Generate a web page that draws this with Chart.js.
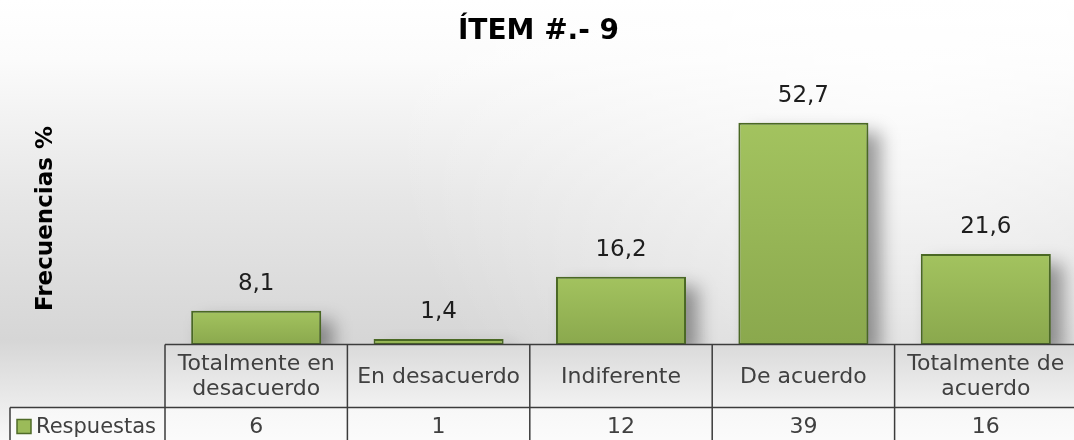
<!DOCTYPE html>
<html><head><meta charset="utf-8">
<script src="https://cdn.jsdelivr.net/npm/chart.js@4.4.1/dist/chart.umd.min.js"></script>
<style>html,body{margin:0;padding:0;overflow:hidden;background:#fff}#wrap{width:1080px;height:440px;position:relative}canvas{display:block}</style>
</head><body><div id="wrap"><canvas id="c" width="1080" height="440"></canvas></div>
<script>
const chartTitle = "ÍTEM #.- 9";
const yAxisTitle = "Frecuencias %";
const seriesName = "Respuestas";
const categories = [["Totalmente en","desacuerdo"],["En desacuerdo"],["Indiferente"],["De acuerdo"],["Totalmente de","acuerdo"]];
const percentages = [8.1, 1.4, 16.2, 52.7, 21.6];
const responses = [6, 1, 12, 39, 16];
const yMin = 0, yMax = 60;

const fmt = v => v.toFixed(1).replace('.', ',');
const FONT = "'DejaVu Sans', sans-serif";

const bgPlugin = {
  id: 'bg',
  beforeDraw(chart) {
    const {ctx, width, height} = chart;
    ctx.save();
    const g = ctx.createLinearGradient(0, 0, 0, height);
    g.addColorStop(0, '#ffffff');
    g.addColorStop(60/440, '#fbfbfb');
    g.addColorStop(200/440, '#e6e6e6');
    g.addColorStop(340/440, '#d6d6d6');
    g.addColorStop(407/440, '#ececec');
    g.addColorStop(1, '#f8f8f8');
    ctx.fillStyle = g;
    ctx.fillRect(0, 0, width, height);
    const r = ctx.createRadialGradient(900, 60, 0, 900, 60, 520);
    r.addColorStop(0, 'rgba(255,255,255,0.75)');
    r.addColorStop(1, 'rgba(255,255,255,0)');
    ctx.fillStyle = r;
    ctx.fillRect(0, 0, width, 345);
    ctx.restore();
  }
};

const shadowPlugin = {
  id: 'shadow',
  beforeDatasetsDraw(chart) {
    const {ctx, chartArea: a} = chart;
    ctx.save();
    ctx.beginPath();
    ctx.rect(a.left, 0, a.right - a.left, a.bottom);
    ctx.clip();
    ctx.filter = 'blur(9px)';
    ctx.fillStyle = 'rgba(0,0,0,0.38)';
    chart.getDatasetMeta(0).data.forEach((bar) => {
      const w = bar.width;
      ctx.fillRect(bar.x - w / 2 + 12, bar.y + 10, w, bar.base - bar.y);
    });
    ctx.restore();
  },
  afterDatasetsDraw(chart) {
    const ctx = chart.ctx;
    ctx.save();
    ctx.font = "23px " + FONT;
    ctx.fillStyle = '#1e1e1e';
    ctx.textAlign = 'center';
    ctx.textBaseline = 'middle';
    chart.getDatasetMeta(0).data.forEach((bar, i) => {
      ctx.fillText(fmt(percentages[i]), bar.x, bar.y - 27);
    });
    ctx.restore();
  }
};

const tablePlugin = {
  id: 'table',
  afterDraw(chart) {
    const {ctx, chartArea: a, width} = chart;
    const xs = chart.scales.x;
    const step = xs.getPixelForValue(1) - xs.getPixelForValue(0);
    const top = a.bottom - 0.5;
    const row1 = 63, row2 = 63;
    const mid = top + row1;
    const bot = mid + row2;
    const legLeft = 10;
    ctx.save();
    let g = ctx.createLinearGradient(0, top, 0, mid);
    g.addColorStop(0, '#dadada');
    g.addColorStop(1, '#f2f2f2');
    ctx.fillStyle = g;
    ctx.fillRect(a.left, top, width - a.left, row1);
    g = ctx.createLinearGradient(0, mid, 0, bot);
    g.addColorStop(0, '#f7f7f7');
    g.addColorStop(1, '#ffffff');
    ctx.fillStyle = g;
    ctx.fillRect(legLeft, mid, width - legLeft, row2);
    ctx.strokeStyle = '#3c3c3c';
    ctx.lineWidth = 1.5;
    ctx.beginPath();
    ctx.moveTo(a.left, top); ctx.lineTo(width, top);
    ctx.moveTo(legLeft, mid); ctx.lineTo(width, mid);
    ctx.moveTo(legLeft, bot); ctx.lineTo(width, bot);
    ctx.moveTo(legLeft, mid); ctx.lineTo(legLeft, bot);
    for (let i = 0; i <= categories.length; i++) {
      const x = xs.getPixelForValue(i) - step / 2;
      ctx.moveTo(x, top); ctx.lineTo(x, bot);
    }
    ctx.stroke();
    ctx.fillStyle = '#404040';
    ctx.font = "22px " + FONT;
    ctx.textAlign = 'center';
    ctx.textBaseline = 'middle';
    const lh = 25;
    categories.forEach((lines, i) => {
      const cx = xs.getPixelForValue(i);
      const cy = top + row1 / 2 + 1;
      lines.forEach((t, j) => {
        ctx.fillText(t, cx, cy + (j - (lines.length - 1) / 2) * lh);
      });
      ctx.fillText(String(responses[i]), cx, mid + 20);
    });
    ctx.fillStyle = '#9bbb59';
    ctx.fillRect(17, mid + 12, 14, 14);
    ctx.strokeStyle = '#4f6b28';
    ctx.lineWidth = 1.5;
    ctx.strokeRect(17, mid + 12, 14, 14);
    ctx.fillStyle = '#404040';
    ctx.textAlign = 'left';
    ctx.font = "21px " + FONT;
    ctx.fillText(seriesName, 36, mid + 20);
    ctx.restore();
  }
};

new Chart(document.getElementById('c'), {
  type: 'bar',
  data: {
    labels: categories,
    datasets: [{
      label: seriesName,
      data: percentages,
      backgroundColor: (c) => {
        const chart = c.chart, a = chart.chartArea;
        if (!a || c.dataIndex === undefined) return '#9bbb59';
        const top = chart.scales.y.getPixelForValue(percentages[c.dataIndex]);
        const g = chart.ctx.createLinearGradient(0, top, 0, a.bottom);
        g.addColorStop(0, '#a3c35f');
        g.addColorStop(1, '#8aa84d');
        return g;
      },
      borderColor: '#4a6824',
      borderWidth: 2,
      borderSkipped: false,
      categoryPercentage: 1,
      barPercentage: 0.713
    }]
  },
  options: {
    responsive: false,
    animation: false,
    layout: { padding: { left: 0, right: 3, top: 0, bottom: 95 } },
    plugins: {
      legend: { display: false },
      tooltip: { enabled: false },
      title: {
        display: true,
        text: chartTitle,
        color: '#000',
        font: { family: FONT, size: 28, weight: 'bold' },
        padding: { top: 15, bottom: 43.4 }
      }
    },
    scales: {
      x: { display: false },
      y: {
        min: yMin, max: yMax,
        ticks: { display: false },
        grid: { display: false, drawTicks: false },
        border: { display: false },
        title: {
          display: true,
          text: yAxisTitle,
          color: '#000',
          font: { family: FONT, size: 23, weight: 'bold' },
          padding: { top: 32.7, bottom: 104.7 }
        }
      }
    }
  },
  plugins: [bgPlugin, shadowPlugin, tablePlugin]
});
</script></body></html>
